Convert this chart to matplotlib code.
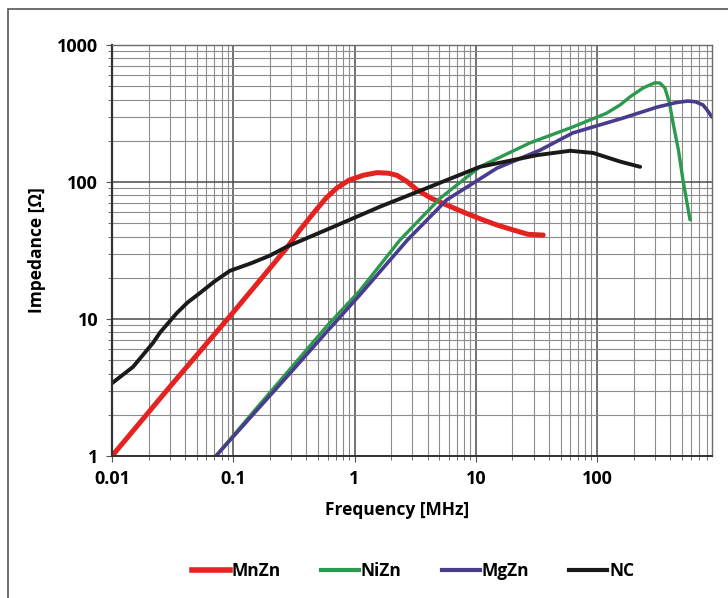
import matplotlib.pyplot as plt
from matplotlib.ticker import LogLocator, FixedLocator, FixedFormatter, NullFormatter
from matplotlib.lines import Line2D
from matplotlib.patches import Rectangle

plt.rcParams['font.family'] = ['Open Sans', 'DejaVu Sans']

mnzn_f = [0.01, 0.03, 0.1, 0.2, 0.276, 0.35, 0.457, 0.58, 0.71, 0.9, 1.18, 1.53, 1.9, 2.23, 2.7, 3.26,
          4.3, 5.75, 8.0, 10.8, 15, 20.3, 27, 36]
mnzn_z = [1.0, 3.2, 11.2, 23.4, 33.0, 44, 59, 76, 90, 103, 112, 117, 116, 112, 101, 88,
          76, 68, 60, 54, 48.5, 44.7, 41.5, 41]

nizn_f = [0.072, 0.15, 0.3, 0.6, 1.1, 2.37, 5.07, 10.8, 28, 63, 120, 155, 187, 240, 300, 330, 363,
          395, 424, 470, 512, 550, 585]
nizn_z = [1.0, 2.15, 4.4, 9.0, 16.0, 37.7, 76, 129, 193, 252, 318, 365, 418, 486, 530, 528, 486,
          380, 270, 170, 103, 72, 53]

mgzn_f = [0.072, 0.15, 0.3, 0.6, 1.1, 2.73, 5.75, 14.9, 34, 63, 164, 313, 450, 562, 650, 748, 800, 888]
mgzn_z = [1.0, 2.07, 4.1, 8.2, 14.9, 37.7, 74, 126, 171, 228, 293, 352, 380, 390, 385, 365, 340, 298]

nc_f = [0.01, 0.0149, 0.0218, 0.025, 0.0344, 0.042, 0.0532, 0.07, 0.094, 0.14, 0.2, 0.276, 0.63, 1.62,
        3.67, 10.8, 32, 60, 93, 155, 227]
nc_z = [3.4, 4.47, 6.7, 8.0, 11.1, 13.2, 15.5, 18.8, 22.5, 25.5, 29, 33.7, 46, 66,
        88, 129, 157, 169, 163, 141, 129]

x_ticks = [0.01, 0.1, 1, 10, 100]
x_labels = ['0.01', '0.1', '1', '10', '100']
y_ticks = [1, 10, 100, 1000]
y_labels = ['1', '10', '100', '1000']

colours = {"MnZn": '#e42320', "NiZn": '#2b9a4e', "MgZn": '#4a3c8c', "NC": '#1a1a1a'}

# ----------------(figure)----------------
fig = plt.figure(figsize=(7.28, 5.98), dpi=100)
fig.patches.append(Rectangle((8 / 728, -0.1), 1.2, 1 - 9 / 598 + 0.1, transform=fig.transFigure,
                             fill=False, edgecolor='#555555', linewidth=1.2))

ax = fig.add_axes([112 / 728, 1 - 456 / 598, 600 / 728, 411 / 598])
ax.set_xscale('log')
ax.set_yscale('log')
ax.set_xlim(0.01, 888)
ax.set_ylim(1, 1000)

ax.xaxis.set_major_locator(FixedLocator(x_ticks))
ax.xaxis.set_major_formatter(FixedFormatter(x_labels))
ax.yaxis.set_major_locator(FixedLocator(y_ticks))
ax.yaxis.set_major_formatter(FixedFormatter(y_labels))
for a in (ax.xaxis, ax.yaxis):
    a.set_minor_locator(LogLocator(base=10, subs=range(2, 10), numticks=20))
    a.set_minor_formatter(NullFormatter())

ax.grid(which='major', color='#4a4a4a', linewidth=1.1)
ax.grid(which='minor', color='#8c8c8c', linewidth=0.8)
ax.set_axisbelow(True)

for s in ax.spines.values():
    s.set_color('#6a6a6a')
    s.set_linewidth(1.0)
ax.spines['left'].set_color('#333333')
ax.spines['left'].set_linewidth(1.6)
ax.spines['bottom'].set_color('#333333')
ax.spines['bottom'].set_linewidth(1.4)

ax.tick_params(which='both', direction='out', color='#555555')
ax.tick_params(which='major', length=4, labelsize=13, pad=6)
ax.tick_params(which='minor', length=3)
for lab in ax.get_xticklabels() + ax.get_yticklabels():
    lab.set_fontweight('bold')

ax.plot(mnzn_f, mnzn_z, color=colours["MnZn"], linewidth=3.6, solid_capstyle='round', solid_joinstyle='round')
ax.plot(nizn_f, nizn_z, color=colours["NiZn"], linewidth=2.4, solid_capstyle='round', solid_joinstyle='round')
ax.plot(mgzn_f, mgzn_z, color=colours["MgZn"], linewidth=2.6, solid_capstyle='round', solid_joinstyle='round')
ax.plot(nc_f, nc_z, color=colours["NC"], linewidth=2.8, solid_capstyle='round', solid_joinstyle='round')

ax.set_xlabel('Frequency [MHz]', fontsize=12.5, fontweight='bold')
ax.xaxis.set_label_coords((397 - 112) / 600, (456 - 501) / 411)
ax.set_ylabel('Impedance [Ω]', fontsize=12.5, fontweight='bold')
ax.yaxis.set_label_coords((46 - 112) / 600, 0.5)

handles = [Line2D([], [], color=colours[k], linewidth=4 if k == "MnZn" else 3) for k in colours]
fig.legend(handles, list(colours.keys()), loc='center', bbox_to_anchor=(413 / 728, 1 - 571 / 598),
           ncol=4, frameon=False, handlelength=2.2, handletextpad=0.1, columnspacing=2.3,
           prop={'weight': 'bold', 'size': 12.5})

plt.savefig('out.png', dpi=100)
